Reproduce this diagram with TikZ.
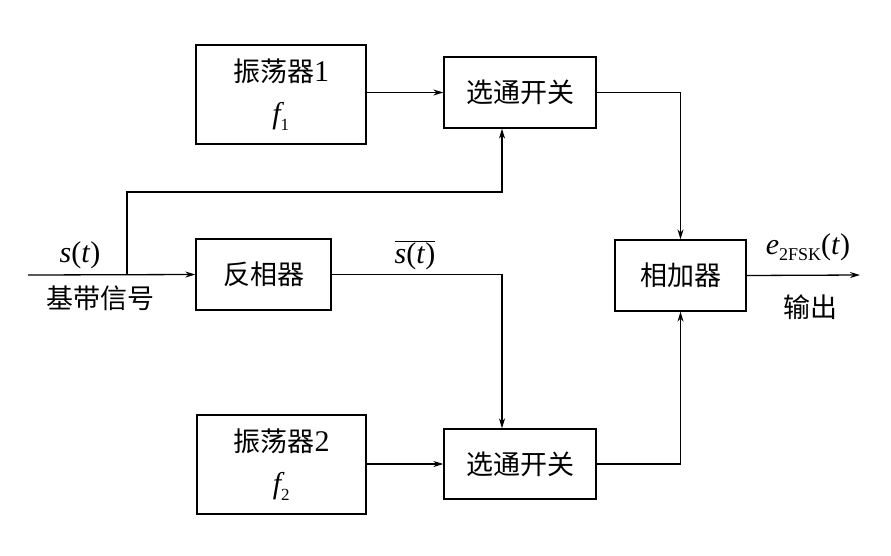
\documentclass[tikz,border=0pt]{standalone}
\usepackage{fontspec}
\setmainfont{Liberation Serif}
\newfontfamily\cjk{Noto Sans CJK SC}
\usetikzlibrary{arrows.meta}
\begin{document}
\begin{tikzpicture}[x=1pt,y=-1pt,
  blk/.style={draw,line width=1.3pt,minimum width=#1,inner sep=0pt,align=center,
    font=\fontsize{27}{36}\selectfont},
  conn/.style={line width=1.3pt},
  arr/.style={conn,-{Stealth[length=10pt,width=6pt]}},
  lbl/.style={inner sep=0pt,font=\fontsize{30}{32}\selectfont}]
\useasboundingbox (0,0) rectangle (891,555);
\node[blk=170pt,minimum height=99pt] (osc1) at (281,94.5) {{\cjk 振荡器}{\fontsize{30}{30}\selectfont 1}\\[6pt]{\fontsize{30}{30}\selectfont$\textit{f}_{\mbox{\fontsize{17}{17}\selectfont 1}}$}};
\node[blk=152pt,minimum height=71pt] (sw1) at (520,92.5) {\cjk 选通开关};
\node[blk=135pt,minimum height=71pt] (inv) at (263.5,274.5) {\cjk 反相器};
\node[blk=131pt,minimum height=71pt] (add) at (680.5,275.5) {\cjk 相加器};
\node[blk=169pt,minimum height=99pt] (osc2) at (281.5,464.5) {{\cjk 振荡器}{\fontsize{30}{30}\selectfont 2}\\[6pt]{\fontsize{30}{30}\selectfont$\textit{f}_{\mbox{\fontsize{17}{17}\selectfont 2}}$}};
\node[blk=152pt,minimum height=70pt] (sw2) at (520,464) {\cjk 选通开关};
\coordinate (in) at (28,275);
\coordinate (br) at (127,275);
\coordinate (out) at (860,275);
\node[lbl] (st) at (80,255) {\textit{s}(\textit{t})};
\node[lbl,font=\fontsize{27}{32}\selectfont] (jd) at (100,298) {\cjk 基带信号};
\node[lbl] (stb) at (415,255) {$\overline{\mbox{\textit{s}(\textit{t})}}$};
\node[lbl] (e) at (808,247) {\textit{e}\raisebox{-6pt}{\fontsize{18}{18}\selectfont 2FSK}(\textit{t})};
\node[lbl,font=\fontsize{27}{32}\selectfont] (sc) at (810,307) {\cjk 输出};
\draw[arr] (in) -- (inv.west);
\draw[arr] (br) -- (127,192) -- (502,192) -- (502,0 |- sw1.south);
\draw[arr] (osc1.east |- sw1.west) -- (sw1.west);
\draw[arr] (osc2.east |- sw2.west) -- (sw2.west);
\draw[arr] (inv.east) -- (502,0 |- inv.east) -- (502,0 |- sw2.north);
\draw[arr] (sw1.east) -- (add.north |- sw1.east) -- (add.north);
\draw[arr] (sw2.east) -- (add.south |- sw2.east) -- (add.south);
\draw[arr] (add.east) -- (out);
\end{tikzpicture}
\end{document}
